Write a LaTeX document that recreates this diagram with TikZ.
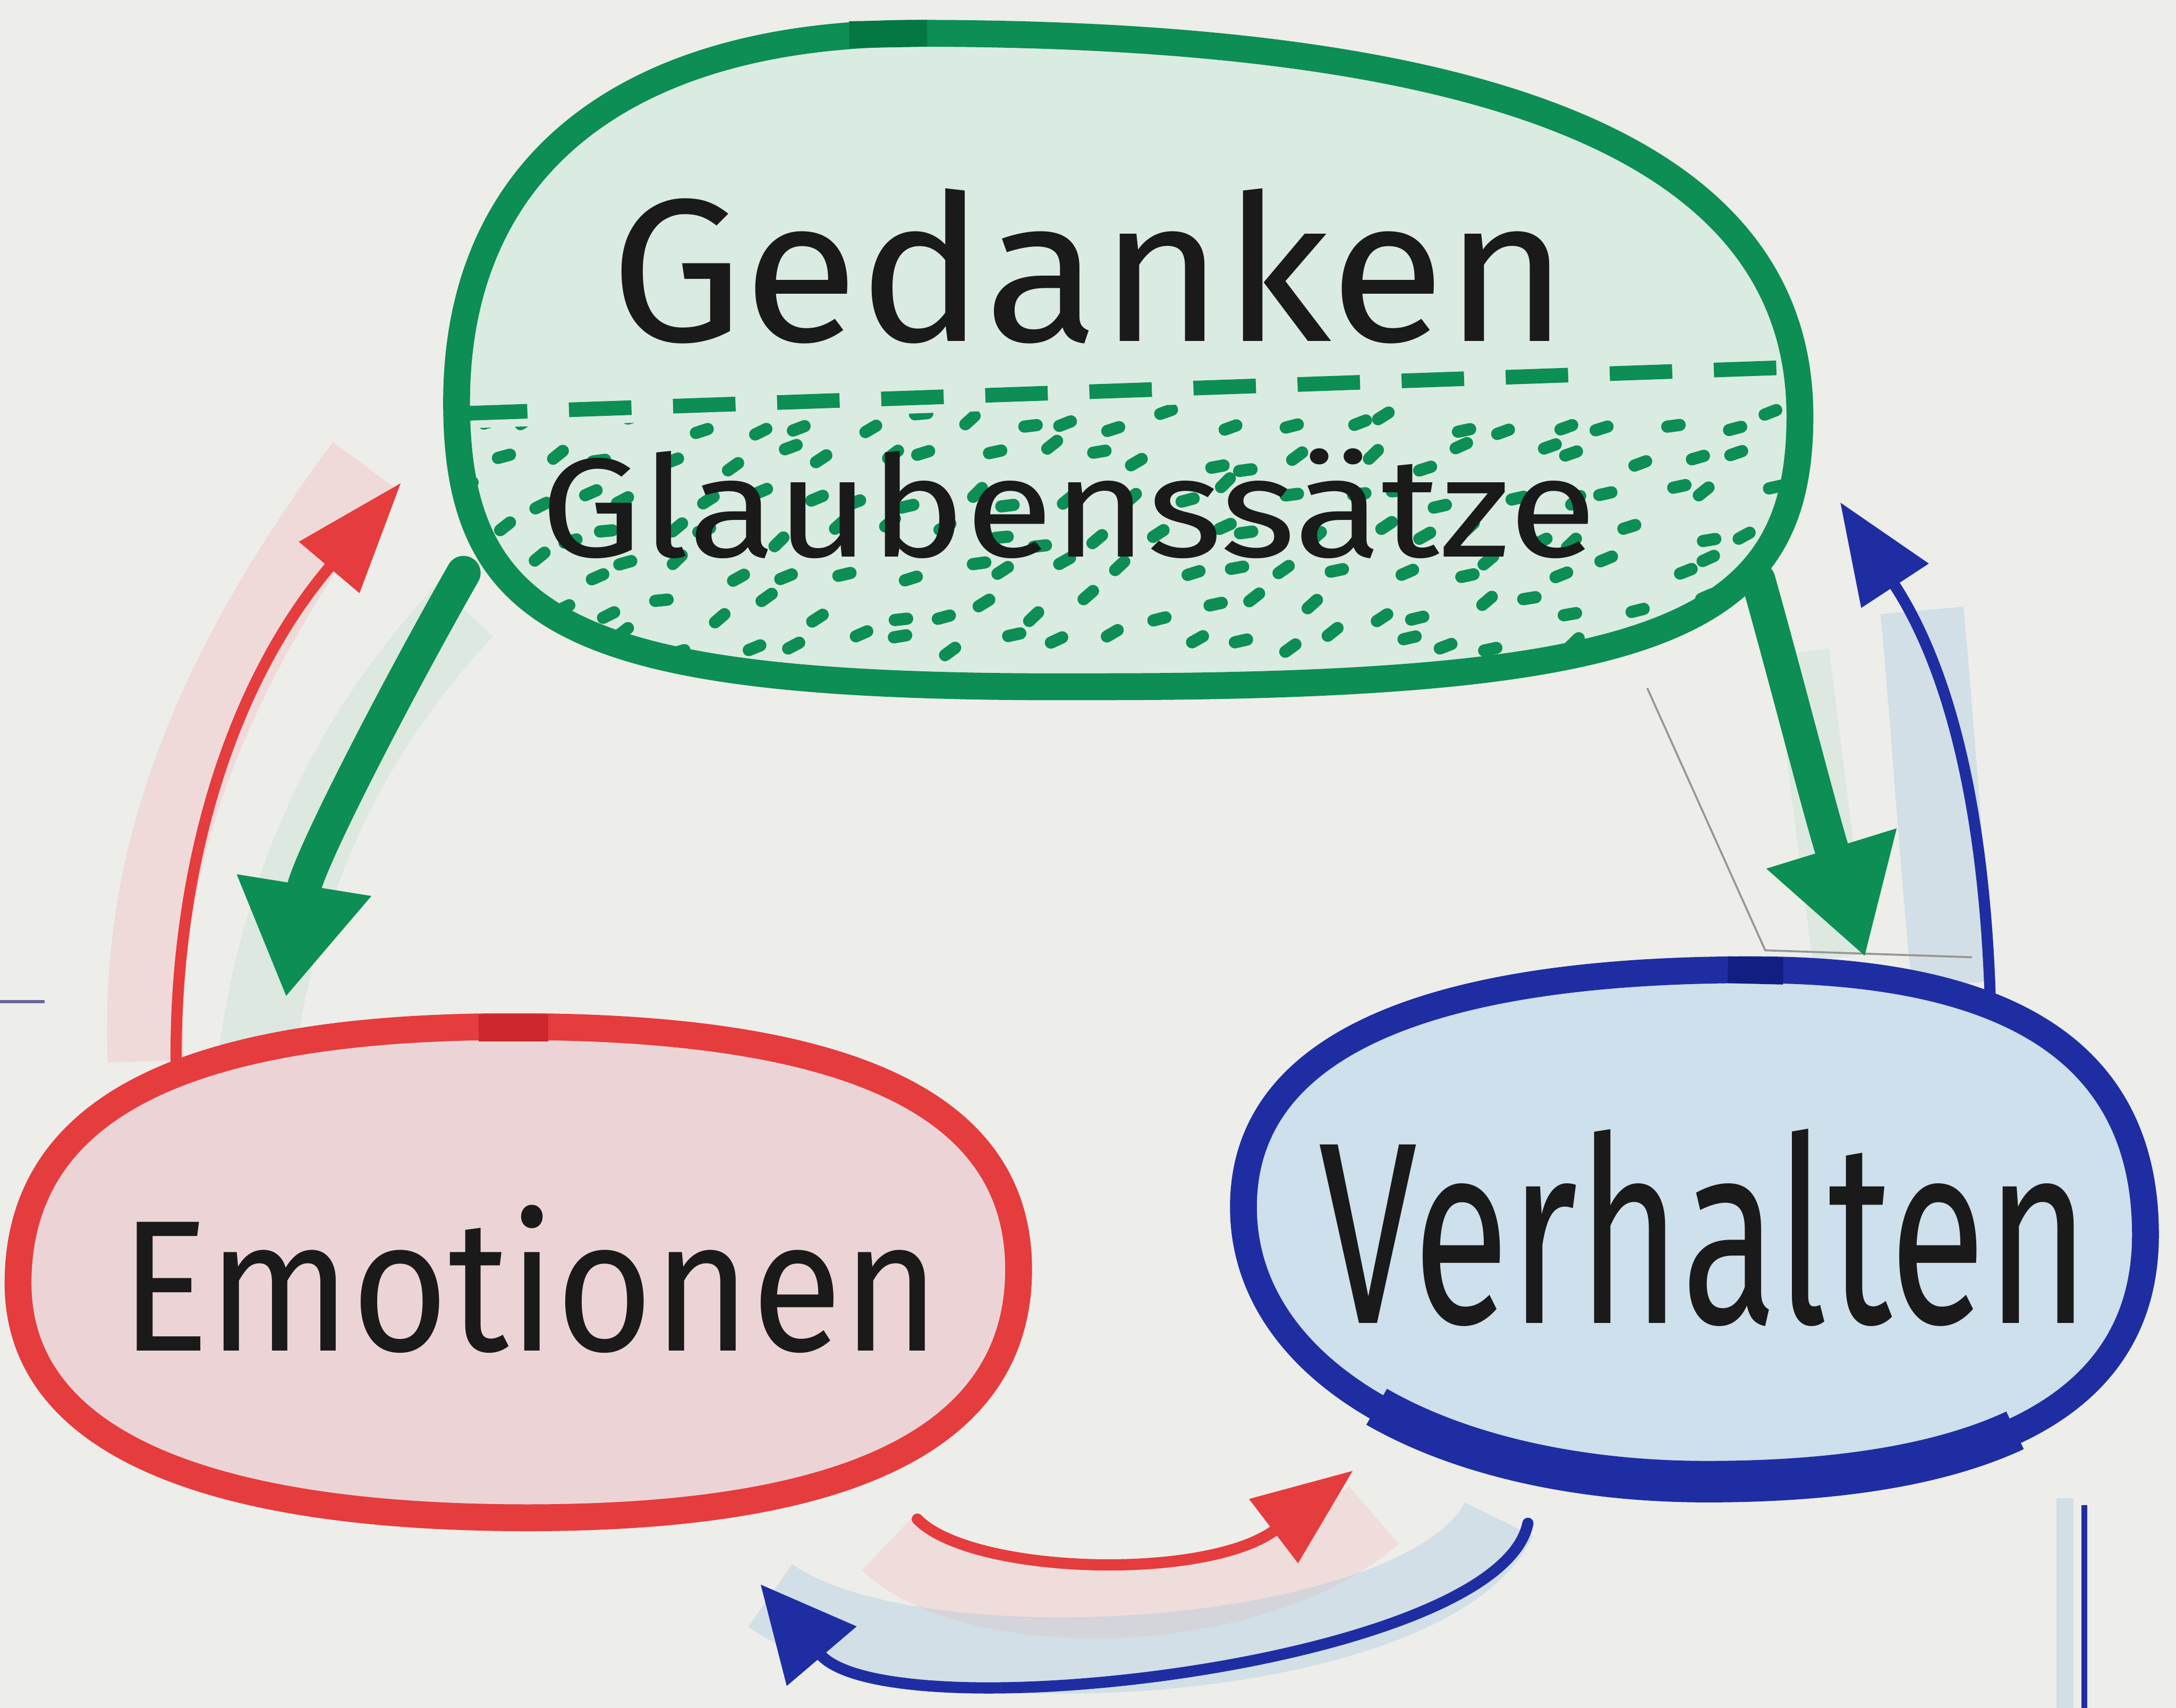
\documentclass[tikz,border=0pt]{standalone}
\usepackage{fontspec}
\setmainfont{Fira Sans}
\usepackage{graphicx}
\usepackage{tikz}
\usetikzlibrary{arrows.meta}

\definecolor{paper}{RGB}{237,237,234}
\definecolor{mgreen}{RGB}{12,142,84}
\definecolor{mgreendark}{RGB}{4,118,66}
\definecolor{mred}{RGB}{229,60,62}
\definecolor{mreddark}{RGB}{205,38,44}
\definecolor{mblue}{RGB}{30,46,162}
\definecolor{mbluedark}{RGB}{18,30,130}
\definecolor{greenwash}{RGB}{218,235,226}
\definecolor{redwash}{RGB}{236,212,214}
\definecolor{bluewash}{RGB}{205,224,235}
\definecolor{skywash}{RGB}{150,192,222}
\definecolor{ink}{RGB}{26,26,26}
\definecolor{pencil}{RGB}{150,150,150}

% hand drawn outlines
\newcommand{\gedshape}{(660,24) .. controls (1080,24) and (1297,110) .. (1297,300)
    .. controls (1297,450) and (1200,495) .. (790,495)
    .. controls (420,497) and (329,455) .. (329,290)
    .. controls (329,120) and (450,24) .. cycle}
\newcommand{\emoshape}{(370,740) .. controls (600,740) and (734,790) .. (734,915)
    .. controls (734,1060) and (560,1094) .. (380,1094)
    .. controls (150,1094) and (13,1040) .. (13,925)
    .. controls (13,790) and (150,740) .. cycle}
\newcommand{\verhshape}{(1262,699) .. controls (1450,699) and (1546,760) .. (1546,890)
    .. controls (1546,1030) and (1400,1068) .. (1230,1068)
    .. controls (1040,1068) and (896,990) .. (896,870)
    .. controls (896,740) and (1060,699) .. cycle}

\begin{document}
\begin{tikzpicture}[x=0.01cm, y=-0.01cm,
    rim/.style={line width=5.5pt, line join=round},
    word/.style={text=ink, inner sep=0pt},
    wash/.style={line width=0.55cm, opacity=0.3},
    fatarrow/.style={line width=7pt, line cap=round, -{Triangle[length=0.82cm,width=0.92cm]}},
    thinarrow/.style={line width=2.3pt, line cap=round, -{Triangle[length=0.72cm,width=0.56cm]}},
    blip/.style={line width=2.5pt, line cap=round, mgreen}]

    % Paper
    \fill[paper] (0,0) rectangle (1568,1231);
    \useasboundingbox (0,0) rectangle (1568,1231);

    % Pencil washes
    \draw[wash, mred!40] (105,765) .. controls (100,630) and (140,500) .. (262,335);
    \draw[wash, mgreen!30] (185,760) .. controls (205,620) and (260,520) .. (335,440);
    \draw[wash, mgreen!30, line width=0.4cm] (1298,470) -- (1326,690);
    \draw[wash, skywash, line width=0.6cm] (1385,440) .. controls (1395,550) and (1400,640) .. (1408,710);
    \draw[wash, mred!35] (640,1112) .. controls (700,1170) and (900,1170) .. (990,1092);
    \draw[wash, skywash] (1080,1095) .. controls (1030,1200) and (660,1225) .. (555,1150);
    \draw[wash, skywash, line width=0.12cm] (1488,1080) -- (1488,1231);

    % Pencil guide lines
    \draw[pencil, line width=0.4pt] (1187,496) -- (1272,685) -- (1421,690);
    \draw[gray!80!blue, line width=0.6pt] (0,722) -- (32,722);

    % Gedanken / Glaubenssaetze blob
    \fill[greenwash] \gedshape;
    \begin{scope}
        \clip \gedshape;
        \clip (300,310) -- (1320,276) -- (1320,520) -- (300,520) -- cycle;
        \pgfmathsetseed{11}
        \foreach \r in {0,...,6}{
            \foreach \c in {0,...,24}{
                \pgfmathsetmacro{\px}{340+39*\c+19*mod(\r,2)+13*rand}
                \pgfmathsetmacro{\py}{305+27*\r+9*rand}
                \pgfmathsetmacro{\pa}{-25+20*rand}
                \draw[blip] (\px,\py) -- ++(\pa:9);
            }
        }
    \end{scope}
    \draw[mgreen, line width=3pt, dash pattern=on 0.45cm off 0.3cm] (335,298) -- (1285,265);
    \draw[rim, mgreen] \gedshape;
    \draw[rim, mgreendark] (612,25) -- (668,24);

    % Emotionen blob
    \filldraw[rim, mred, fill=redwash] \emoshape;
    \draw[rim, mreddark] (345,741) -- (395,741);

    % Verhalten blob
    \filldraw[rim, mblue, fill=bluewash] \verhshape;
    \draw[mblue, line width=8.5pt] (1452,1031) .. controls (1394,1058) and (1315,1068) .. (1230,1068)
        .. controls (1135,1068) and (1051,1048) .. (992,1014);
    \draw[rim, mbluedark] (1245,699) -- (1285,700);

    % Labels
    \node[word] (ged) at (785,192) {\resizebox{6.9cm}{1.1cm}{Gedanken}};
    \node[word] (glaub) at (770,363) {\resizebox{7.6cm}{0.78cm}{Glaubenssätze}};
    \node[word] (emo) at (382,922) {\resizebox{5.9cm}{1.05cm}{Emotionen}};
    \node[word] (verh) at (1228,885) {\resizebox{5.55cm}{1.4cm}{Verhalten}};

    % Arrow ends
    \coordinate (ged-sw) at (334,413);
    \coordinate (ged-se) at (1267,418);
    \coordinate (emo-in) at (206,719);
    \coordinate (emo-out) at (127,770);
    \coordinate (ged-in) at (289,348);
    \coordinate (verh-in) at (1344,690);
    \coordinate (verh-out) at (1434,716);
    \coordinate (ged-in2) at (1326,362);
    \coordinate (emo-out2) at (661,1095);
    \coordinate (verh-in2) at (975,1060);
    \coordinate (verh-out2) at (1101,1098);
    \coordinate (emo-in2) at (548,1142);
    \coordinate (edge-top) at (1502,1085);
    \coordinate (edge-bot) at (1502,1231);

    % Gedanken -> Emotionen, Emotionen -> Gedanken
    \draw[fatarrow, mgreen] (ged-sw) .. controls (290,490) and (222,620) .. (emo-in);
    \draw[thinarrow, mred, -{Triangle[length=0.8cm,width=0.55cm]}] (emo-out) .. controls (125,640) and (160,500) .. (ged-in);

    % Gedanken -> Verhalten, Verhalten -> Gedanken
    \draw[fatarrow, mgreen] (ged-se) .. controls (1290,500) and (1310,580) .. (verh-in);
    \draw[thinarrow, mblue] (verh-out) .. controls (1430,600) and (1410,490) .. (ged-in2);

    % Emotionen -> Verhalten, Verhalten -> Emotionen
    \draw[thinarrow, mred] (emo-out2) .. controls (700,1135) and (870,1140) .. (verh-in2);
    \draw[thinarrow, mblue, -{Triangle[length=0.68cm,width=0.64cm]}] (verh-out2) .. controls (1080,1200) and (640,1250) .. (emo-in2);

    % Edge line
    \draw[mblue, line width=1.2pt] (edge-top) -- (edge-bot);

\end{tikzpicture}
\end{document}
